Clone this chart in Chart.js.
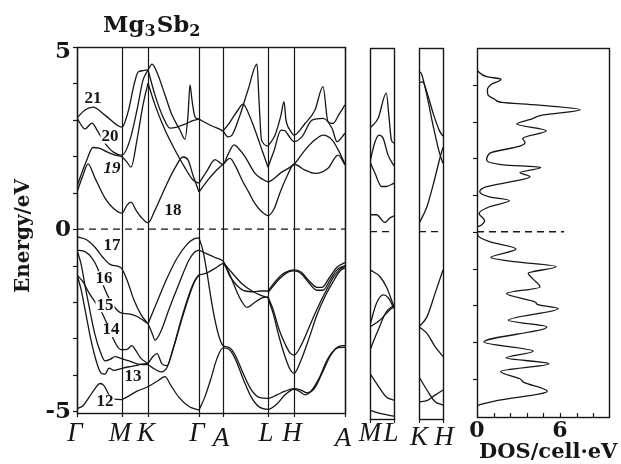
<!DOCTYPE html>
<html>
<head>
<meta charset="utf-8">
<title>Mg3Sb2 band structure and DOS</title>
<script src="https://cdn.jsdelivr.net/npm/chart.js@4.4.1/dist/chart.umd.min.js"></script>
<style>
html,body{margin:0;padding:0;background:#ffffff;}
#stage{position:relative;width:621px;height:464px;overflow:hidden;background:#fff;}
#stage canvas{position:absolute;left:0;top:0;}
</style>
</head>
<body>
<div id="stage">
  <canvas id="mainChart" width="621" height="464"></canvas>
  <canvas id="mlChart" width="621" height="464"></canvas>
  <canvas id="khChart" width="621" height="464"></canvas>
  <canvas id="dosChart" width="621" height="464"></canvas>
</div>
<script>
// ================= DATA =================
// main k-path (Γ-M-K-Γ-A-L-H-A), k in path units
const mainPathK = [0, 45, 71, 122, 146, 191, 217, 268];
const mainPathLabels = ['Γ', 'M', 'K', 'Γ', 'A', 'L', 'H', 'A'];
const energyTickValues = [-5, -4, -3, -2, -1, 0, 1, 2, 3, 4, 5];
const energyLabelValues = [5, 0, -5];
const energyLabelTexts = ['5', '0', '-5'];

// band index labels
const bandNumberTexts = ['21', '20', '19', '18', '17', '16', '15', '14', '13', '12'];
const bandNumberK = [16, 33, 35, 96, 35, 27, 28, 34, 56, 28];
const bandNumberE = [3.57, 2.54, 1.67, 0.5, -0.46, -1.35, -2.09, -2.77, -4.06, -4.74];

// conduction bands  [k, E(eV)]
const band18a = [[0,1.02],[6,1.48],[11,1.79],[18,1.40],[28,0.85],[36,0.58],[45,0.44],[50,0.66],[54,0.74],[59,0.52],[65,0.30],[71,0.17],[78,0.52],[88,1.13],[98,1.68],[106,1.98],[111,1.90],[116,1.48],[122,1.02]];
const band18b = [[122,1.02],[131,1.35],[139,1.6],[146,1.78],[153,1.94],[159,1.7],[165,1.35],[172,1.0],[178,0.7],[185,0.47],[191,0.37],[197,0.55],[203,1.0],[210,1.45],[217,1.78],[228,1.62],[238,1.53],[251,1.67],[261,2.03],[268,1.76]];
const band19a = [[0,1.18],[9,1.84],[16,2.24],[22,2.22],[30,2.12],[38,2.03],[45,1.98],[50,1.84],[54,1.70],[60,2.45],[66,3.41],[71,4.01]];
const band19b = [[71,4.01],[78,3.41],[88,2.72],[98,2.17],[108,1.68],[116,1.35],[122,1.26]];
const band19c = [[122,1.26],[130,1.6],[138,1.91],[146,1.78],[151,2.05],[157,2.31],[162,2.2],[168,1.99],[178,1.53],[185,1.38],[191,1.30],[204,1.55],[217,1.78],[228,2.17],[238,2.45],[246,2.58],[255,2.45],[263,2.08],[268,1.78]];
const band20a = [[0,3.05],[8,2.75],[15,2.91],[20,2.72],[28,2.36],[36,2.12],[45,2.03],[53,2.45],[60,3.27],[66,4.09],[71,4.37]];
const band20b = [[71,4.37],[78,3.68],[86,3.08],[93,2.77],[100,2.80],[108,2.88],[115,2.97],[122,3.02]];
const band20c = [[146,2.69],[153,2.94],[161,3.27],[166,3.43],[171,3.21],[178,2.72],[185,2.17],[191,1.70]];
const band20d = [[191,1.70],[197,2.15],[204,2.72],[208,2.70],[212,2.55],[217,2.40],[225,2.54],[235,2.99],[246,3.04],[255,2.77],[260,2.40],[268,2.63]];
const band21a = [[0,3.05],[8,3.27],[16,3.35],[28,3.13],[45,2.80],[51,3.21],[57,3.96],[61,4.31],[66,4.35],[71,4.37]];
const band21b = [[71,4.37],[75,4.53],[81,4.23],[88,3.68],[95,3.13],[103,2.72],[108,2.47],[111,3.13],[113,3.96],[115,3.54],[118,3.08],[122,3.02]];
const band21c = [[122,3.02],[135,2.83],[146,2.69],[151,2.53],[155,2.58],[163,3.13],[171,3.82],[180,4.53],[182,3.54],[184.5,2.45],[191,2.28]];
const band21d = [[191,2.28],[198,2.58],[204,3.13],[207,3.50],[209,2.99],[213,2.72],[217,2.58],[228,2.9],[238,3.27],[246,3.91],[251,2.95],[256,2.90],[262,3.15],[268,3.41]];

// valence bands  [k, E(eV)]
const band17a = [[0,-0.21],[10,-0.3],[18,-0.5],[26,-0.78],[34,-0.98],[44,-1.06],[50,-1.4],[57,-1.95],[64,-2.35],[71,-2.6]];
const band17b = [[71,-2.6],[80,-2.0],[90,-1.35],[100,-0.8],[110,-0.42],[117,-0.27],[122,-0.24]];
const band16a = [[0,-0.58],[8,-0.62],[15,-0.8],[21,-1.1],[27,-1.6],[34,-2.0],[40,-2.22],[44,-2.3],[52,-2.33],[60,-2.4],[66,-2.5],[71,-2.6]];
const band16b = [[71,-2.6],[75,-2.85],[78,-3.05],[84,-2.8],[92,-2.2],[102,-1.5],[112,-0.85],[118,-0.62],[122,-0.58]];
const band15a = [[0,-1.26],[6,-1.45],[12,-1.75],[18,-2.0],[24,-2.25],[30,-2.6],[36,-3.0],[41,-3.25],[44,-3.31],[50,-3.3],[55,-3.2],[58,-3.3],[64,-3.55],[71,-3.69]];
const band15b = [[71,-3.69],[76,-3.5],[80,-3.42],[85,-3.7],[90,-3.75],[96,-3.3],[104,-2.5],[112,-1.8],[118,-1.4],[122,-1.26]];
const band14a = [[0,-0.58],[4,-0.95],[8,-1.55],[13,-2.25],[18,-2.9],[23,-3.35],[28,-3.62],[33,-3.58],[38,-3.5],[44,-3.55],[52,-3.62],[60,-3.7],[66,-3.72],[71,-3.72]];
const band14b = [[71,-3.72],[78,-3.85],[84,-3.92],[90,-3.8],[96,-3.3],[104,-2.55],[112,-1.85],[118,-1.42],[122,-1.26]];
const band13a = [[0,-1.26],[4,-1.65],[9,-2.35],[14,-3.05],[19,-3.6],[24,-3.95],[28,-3.98],[32,-3.82],[37,-3.88],[44,-3.83],[52,-3.78],[60,-3.74],[66,-3.7],[71,-3.69]];
const band12a = [[0,-4.93],[6,-4.85],[12,-4.62],[18,-4.38],[23,-4.24],[27,-4.3],[32,-4.55],[38,-4.67],[44,-4.68],[52,-4.58],[60,-4.45],[71,-4.33],[80,-4.18],[88,-4.05],[94,-4.3],[102,-4.62],[112,-4.87],[122,-4.97]];
const bandGA1 = [[122,-0.24],[126,-0.6],[130,-1.2],[134,-1.9],[138,-2.5],[142,-2.95],[146,-3.2],[152,-3.25],[158,-3.45],[166,-3.95],[174,-4.4],[182,-4.62],[191,-4.65],[200,-4.55],[208,-4.45],[217,-4.38],[224,-4.42],[230,-4.5],[238,-4.35],[246,-3.9],[254,-3.45],[262,-3.22],[268,-3.2]];
const bandGA2 = [[122,-4.97],[128,-4.6],[134,-4.1],[140,-3.55],[146,-3.26],[152,-3.3],[158,-3.55],[166,-4.1],[174,-4.6],[182,-4.88],[191,-4.95],[200,-4.8],[208,-4.55],[217,-4.4],[222,-4.45],[228,-4.55],[234,-4.45],[242,-4.1],[250,-3.6],[258,-3.3],[264,-3.25],[268,-3.25]];
const bandGA3 = [[122,-0.58],[130,-0.68],[138,-0.78],[146,-0.88],[152,-1.2],[158,-1.6],[164,-1.95],[170,-2.15],[176,-2.05],[184,-1.9],[191,-1.86]];
const bandGA4 = [[122,-1.26],[130,-1.2],[138,-1.08],[146,-0.95],[153,-1.3],[160,-1.55],[168,-1.7],[176,-1.72],[184,-1.7],[191,-1.7]];
const bandAL5 = [[146,-0.9],[155,-1.2],[165,-1.5],[175,-1.7],[184,-1.82],[191,-1.88]];
const bandLA6 = [[191,-1.7],[198,-1.45],[205,-1.25],[212,-1.15],[217,-1.12],[224,-1.18],[232,-1.42],[240,-1.6],[245,-1.6],[252,-1.35],[260,-1.05],[268,-0.92]];
const bandLA7 = [[191,-1.75],[198,-1.5],[205,-1.3],[212,-1.17],[217,-1.15],[224,-1.22],[232,-1.48],[240,-1.68],[246,-1.68],[253,-1.4],[260,-1.12],[268,-1.0]];
const bandLA8 = [[191,-1.86],[196,-2.2],[202,-2.75],[208,-3.15],[213,-3.4],[217,-3.46],[224,-3.2],[232,-2.7],[240,-2.2],[248,-1.75],[256,-1.35],[263,-1.1],[268,-1.02]];
const bandLA9 = [[191,-1.9],[196,-2.3],[202,-2.95],[208,-3.5],[213,-3.85],[217,-3.96],[224,-3.6],[232,-3.0],[240,-2.35],[248,-1.85],[256,-1.45],[263,-1.15],[268,-1.06]];

// M-L panel  [fraction along M→L, E]
const mlPathLabels = ['M', 'L'];
const mlBand1 = [[0,2.82],[0.34,3.09],[0.68,3.77],[0.79,3.13],[0.89,2.5],[1,2.41]];
const mlBand2 = [[0,1.9],[0.21,2.45],[0.38,2.63],[0.55,2.54],[0.75,2.09],[1,1.79]];
const mlBand3 = [[0,1.9],[0.21,1.59],[0.48,1.23],[0.68,1.23],[1,1.32]];
const mlBand4 = [[0,0.46],[0.27,0.46],[0.62,0.25],[0.82,0.37],[1,0.43]];
const mlBand5 = [[0,-1.04],[0.41,-1.22],[0.68,-1.5],[1,-2.04]];
const mlBand6 = [[0,-2.54],[0.27,-1.95],[0.55,-1.72],[0.75,-1.79],[1,-2.09]];
const mlBand7 = [[0,-2.59],[0.41,-2.41],[0.82,-2.13],[1,-2.04]];
const mlBand8 = [[0,-3.22],[0.34,-2.68],[0.68,-2.18],[1,-2.0]];
const mlBand9 = [[0,-3.86],[0.27,-4.13],[0.68,-4.5],[1,-4.59]];
const mlBand10 = [[0,-4.86],[0.41,-4.95],[1,-5.02]];

// K-H panel  [fraction along K→H, E]
const khPathLabels = ['K', 'H'];
const khBand1 = [[0,4.36],[0.1,4.3],[0.3,3.8],[0.6,2.85],[0.85,2.15],[1,1.86]];
const khBand2 = [[0,4.05],[0.15,4.08],[0.35,3.75],[0.6,3.2],[0.85,2.75],[1,2.6]];
const khBand3 = [[0,0.22],[0.33,0.68],[0.6,1.3],[0.85,1.95],[1,2.3]];
const khBand4 = [[0,-2.59],[0.33,-2.32],[0.67,-1.68],[1,-1.04]];
const khBand5 = [[0,-2.59],[0.33,-2.77],[0.67,-3.13],[1,-3.4]];
const khBand6 = [[0,-3.95],[0.33,-4.31],[0.67,-4.63],[1,-4.72]];
const khBand7 = [[0,-4.63],[0.33,-4.6],[0.67,-4.45],[1,-4.31]];

// density of states
const dosEnergy = [4.39,4.22,4.15,4.0,3.86,3.72,3.6,3.52,3.45,3.32,3.18,3.05,2.93,2.75,2.54,2.43,2.33,2.14,1.95,1.82,1.75,1.61,1.5,1.39,1.23,1.09,0.95,0.85,0.68,0.5,0.3,0.18,0.12,-0.09,-0.27,-0.47,-0.7,-0.82,-0.95,-1.13,-1.27,-1.5,-1.68,-1.91,-1.98,-2.09,-2.41,-2.59,-3.0,-3.25,-3.43,-3.59,-3.8,-4.0,-4.09,-4.34,-4.59,-4.72,-4.8];
const dosValue  = [0,0.7,1.74,1.0,0.75,0.8,1.3,1.8,4.3,7.45,4.8,3.8,2.87,5.0,3.3,3.47,3.1,0.94,0.7,1.9,4.6,3.1,3.83,2.87,0.7,0.2,0.9,2.34,0.9,0.15,0.55,0.3,0,0.05,0.9,2.82,1.0,2.87,5.71,3.7,4.0,4.55,2.15,4.2,4.4,5.88,2.27,5.04,0.5,4.07,2.1,5.2,1.71,3.1,3.35,5.08,1.5,0.1,0];
const dosTickValues = [0, 6];
const dosTickTexts = ['0', '6'];
const dosMinorTicks = [1.2, 2.4, 3.6, 4.8, 7.2, 8.4];
const dosFermiEnd = 6.3;

// ================= RENDERING =================
const INK = '#161616';
const BOLD_SERIF = '"DejaVu Serif", "Liberation Serif", serif';
const ITALIC_SERIF = '"Liberation Serif", "DejaVu Serif", serif';

function toXY(arr) { return arr.map(p => ({ x: p[0], y: p[1] })); }
function bandSets(list) {
  return list.map(arr => ({
    data: toXY(arr), borderColor: INK, borderWidth: 1.3, pointRadius: 0,
    cubicInterpolationMode: 'monotone', fill: false
  }));
}
function fermiSet(x0, x1) {
  return { data: [{ x: x0, y: 0 }, { x: x1, y: 0 }], borderColor: INK, borderWidth: 1.4,
    borderDash: [7, 5], pointRadius: 0, tension: 0, fill: false };
}
function baseOptions(xr, yr, pad) {
  return {
    responsive: false, maintainAspectRatio: false, animation: false, devicePixelRatio: 1,
    events: [],
    layout: { padding: pad },
    plugins: { legend: { display: false }, tooltip: { enabled: false }, title: { display: false } },
    scales: {
      x: { type: 'linear', min: xr[0], max: xr[1], display: false },
      y: { type: 'linear', min: yr[0], max: yr[1], display: false }
    }
  };
}
function line(ctx, x1, y1, x2, y2) { ctx.beginPath(); ctx.moveTo(x1, y1); ctx.lineTo(x2, y2); ctx.stroke(); }
function crisp(v) { return Math.round(v) + 0.5; }
function frame(ctx, a) {
  ctx.lineWidth = 1.4;
  ctx.strokeRect(crisp(a.left), crisp(a.top), Math.round(a.right - a.left), Math.round(a.bottom - a.top));
}

// ---------- main panel ----------
const mainDecor = {
  id: 'mainDecor',
  afterDatasetsDraw(chart) {
    const { ctx, chartArea: a, scales: { x, y } } = chart;
    ctx.save();
    ctx.strokeStyle = INK; ctx.fillStyle = INK;
    ctx.lineWidth = 1.2;
    mainPathK.forEach(k => { const px = crisp(x.getPixelForValue(k)); line(ctx, px, a.top, px, a.bottom + 4); });
    energyTickValues.forEach(e => { const py = crisp(y.getPixelForValue(e)); line(ctx, a.left - 4, py, a.left, py); });
    frame(ctx, a);

    // energy labels
    ctx.font = 'bold 23px ' + BOLD_SERIF; ctx.textAlign = 'right'; ctx.textBaseline = 'middle';
    energyLabelValues.forEach((e, i) => {
      let py = y.getPixelForValue(e) + 1;
      if (e === 5) py += 4;
      ctx.fillText(energyLabelTexts[i], a.left - 6, py);
    });

    // k-point labels
    ctx.font = 'italic 27px ' + ITALIC_SERIF; ctx.textAlign = 'center'; ctx.textBaseline = 'alphabetic';
    mainPathLabels.forEach((t, i) => {
      const px = x.getPixelForValue(mainPathK[i]) - 2;
      const base = t === 'A' ? 446 : 441;
      ctx.fillText(t, px, base);
    });

    // band numbers
    ctx.textBaseline = 'middle';
    bandNumberTexts.forEach((t, i) => {
      ctx.font = (t === '19' ? 'italic bold 17px ' : 'bold 17px ') + ITALIC_SERIF;
      const px = x.getPixelForValue(bandNumberK[i]);
      const py = y.getPixelForValue(bandNumberE[i]);
      ctx.fillStyle = '#fff';
      const w = ctx.measureText(t).width;
      ctx.fillRect(px - w / 2 - 1, py - 7, w + 2, 14);
      ctx.fillStyle = INK;
      ctx.fillText(t, px, py);
    });

    // title Mg3Sb2
    ctx.textAlign = 'left'; ctx.textBaseline = 'alphabetic';
    let tx = 103;
    [['Mg', false], ['3', true], ['Sb', false], ['2', true]].forEach(([t, sub]) => {
      ctx.font = sub ? 'bold 16px ' + BOLD_SERIF : 'bold 23px ' + BOLD_SERIF;
      ctx.fillText(t, tx, sub ? 36 : 32);
      tx += ctx.measureText(t).width + (sub ? 1 : 0);
    });

    // y axis title
    ctx.save();
    ctx.translate(29, 236); ctx.rotate(-Math.PI / 2);
    ctx.font = 'bold 20px ' + BOLD_SERIF; ctx.textAlign = 'center'; ctx.textBaseline = 'alphabetic';
    ctx.fillText('Energy/eV', 0, 0);
    ctx.restore();
    ctx.restore();
  }
};

const mainBands = [band18a, band18b, band19a, band19b, band19c, band20a, band20b, band20c, band20d,
  band21a, band21b, band21c, band21d, band17a, band17b, band16a, band16b, band15a, band15b,
  band14a, band14b, band13a, band12a, bandGA1, bandGA2, bandGA3, bandGA4, bandAL5,
  bandLA6, bandLA7, bandLA8, bandLA9];

new Chart(document.getElementById('mainChart'), {
  type: 'line',
  data: { datasets: [fermiSet(0, 268)].concat(bandSets(mainBands)) },
  options: baseOptions([0, 268], [-5.05, 5], { left: 77, right: 276, top: 47, bottom: 51 }),
  plugins: [mainDecor]
});

// ---------- small panels ----------
function smallDecor(labels, nudges) {
  return {
    id: 'smallDecor',
    afterDatasetsDraw(chart) {
      const { ctx, chartArea: a, scales: { x } } = chart;
      ctx.save();
      ctx.strokeStyle = INK; ctx.fillStyle = INK;
      ctx.lineWidth = 1.2;
      [0, 1].forEach(v => { const px = crisp(x.getPixelForValue(v)); line(ctx, px, a.bottom, px, a.bottom + 4); });
      frame(ctx, a);
      ctx.font = 'italic 27px ' + ITALIC_SERIF; ctx.textAlign = 'center'; ctx.textBaseline = 'alphabetic';
      labels.forEach((t, i) => {
        ctx.fillText(t, x.getPixelForValue(i) + nudges[i][0], nudges[i][1]);
      });
      ctx.restore();
    }
  };
}

new Chart(document.getElementById('mlChart'), {
  type: 'line',
  data: { datasets: [fermiSet(0, 1)].concat(bandSets([mlBand1, mlBand2, mlBand3, mlBand4, mlBand5, mlBand6, mlBand7, mlBand8, mlBand9, mlBand10])) },
  options: baseOptions([0, 1], [-5.1, 5], { left: 370, right: 227, top: 48, bottom: 45 }),
  plugins: [smallDecor(mlPathLabels, [[0, 441], [-3, 441]])]
});

new Chart(document.getElementById('khChart'), {
  type: 'line',
  data: { datasets: [fermiSet(0, 1)].concat(bandSets([khBand1, khBand2, khBand3, khBand4, khBand5, khBand6, khBand7])) },
  options: baseOptions([0, 1], [-5.1, 5], { left: 419, right: 178, top: 48, bottom: 45 }),
  plugins: [smallDecor(khPathLabels, [[0, 445], [1, 445]])]
});

// ---------- DOS panel ----------
const dosDecor = {
  id: 'dosDecor',
  afterDatasetsDraw(chart) {
    const { ctx, chartArea: a, scales: { x, y } } = chart;
    ctx.save();
    ctx.strokeStyle = INK; ctx.fillStyle = INK;
    ctx.lineWidth = 1.2;
    energyTickValues.forEach(e => {
      if (Math.abs(e) === 5) return;
      const py = crisp(y.getPixelForValue(e)); line(ctx, a.left - 4, py, a.left, py);
    });
    dosTickValues.concat(dosMinorTicks).forEach(v => {
      const px = crisp(x.getPixelForValue(v)); line(ctx, px, a.bottom - 4, px, a.bottom);
    });
    frame(ctx, a);
    ctx.font = 'bold 22px ' + BOLD_SERIF; ctx.textAlign = 'center'; ctx.textBaseline = 'alphabetic';
    dosTickValues.forEach((v, i) => ctx.fillText(dosTickTexts[i], x.getPixelForValue(v), 437));
    ctx.font = 'bold 21px ' + BOLD_SERIF; ctx.textAlign = 'left';
    ctx.fillText('DOS/cell·eV', 479, 458);
    ctx.restore();
  }
};

new Chart(document.getElementById('dosChart'), {
  type: 'line',
  data: {
    datasets: [
      { data: [{ x: 0, y: 0 }, { x: dosFermiEnd, y: 0 }], borderColor: INK, borderWidth: 1.4,
        borderDash: [7, 5], pointRadius: 0, tension: 0, fill: false },
      { data: dosEnergy.map((e, i) => ({ x: dosValue[i], y: e })), borderColor: INK, borderWidth: 1.3,
        pointRadius: 0, cubicInterpolationMode: 'monotone', fill: false }
    ]
  },
  options: Object.assign(baseOptions([0, 9.54], [-5.04, 5], { left: 477, right: 12, top: 48, bottom: 47 }), { indexAxis: 'y' }),
  plugins: [dosDecor]
});
</script>
</body>
</html>
